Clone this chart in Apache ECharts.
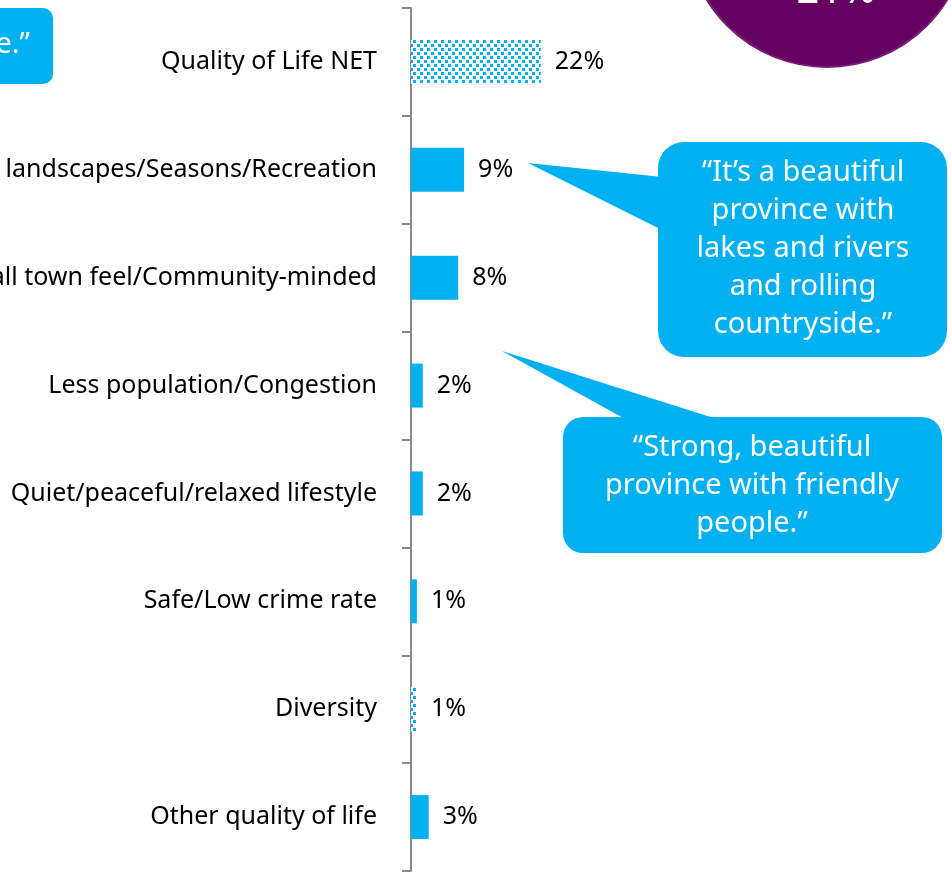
<!DOCTYPE html>
<html>
<head>
<meta charset="utf-8">
<script src="https://cdn.jsdelivr.net/npm/echarts@6/dist/echarts.min.js"></script>
<style>
  html, body { margin: 0; padding: 0; background: #fff; }
  #chart { width: 951px; height: 872px; }
</style>
</head>
<body>
<div id="chart"></div>
<script>
const categories = [
  'Quality of Life NET',
  'Beautiful landscapes/Seasons/Recreation',
  'Small town feel/Community-minded',
  'Less population/Congestion',
  'Quiet/peaceful/relaxed lifestyle',
  'Safe/Low crime rate',
  'Diversity',
  'Other quality of life'
];
const values = [22, 9, 8, 2, 2, 1, 1, 3];
const patterned = [true, false, false, false, false, false, true, false];

const quote1 = ['“It’s a beautiful', 'province with', 'lakes and rivers', 'and rolling', 'countryside.”'];
const quote2 = ['“Strong, beautiful', 'province with friendly', 'people.”'];

const BLUE = '#00B0F0';
const FONT = 'Noto Sans';

// dotted fill used for the NET / Diversity bars
function makeDots() {
  const c = document.createElement('canvas');
  c.width = 7; c.height = 8;
  const ctx = c.getContext('2d');
  ctx.fillStyle = '#fff';
  ctx.fillRect(0, 0, 7, 8);
  ctx.fillStyle = BLUE;
  ctx.fillRect(0, 0, 3, 3);
  ctx.fillRect(4, 4, 3, 3);
  return c;
}
const dots = makeDots();

const chart = echarts.init(document.getElementById('chart'));

const data = values.map((v, i) => ({
  value: v,
  itemStyle: { color: patterned[i] ? { image: dots, repeat: 'repeat' } : BLUE }
}));

const option = {
  animation: false,
  grid: { left: 411, top: 8, bottom: 1, width: 295, containLabel: false, outerBoundsMode: 'none' },
  xAxis: {
    type: 'value', min: 0, max: 50,
    show: false
  },
  yAxis: {
    type: 'category',
    data: categories,
    inverse: true,
    axisLine: { show: true, lineStyle: { color: '#898989', width: 2 } },
    axisTick: { show: true, length: 9, lineStyle: { color: '#898989', width: 2 } },
    axisLabel: { color: '#000', fontSize: 25, fontFamily: FONT, margin: 34, padding: [4, 0, 0, 0] }
  },
  series: [{
    type: 'bar',
    data,
    barWidth: 44,
    label: {
      show: true, position: 'right', distance: 14, padding: [4, 0, 0, 0],
      formatter: '{c}%', color: '#000', fontSize: 25, fontFamily: FONT
    }
  }],
  graphic: [
    // purple circle at top right
    { type: 'circle', shape: { cx: 827, cy: -74, r: 141 },
      style: { fill: '#650060', stroke: '#7a1c7a', lineWidth: 2 }, z: 10 },
    { type: 'text', x: 836, y: -8,
      style: { text: '21%', fill: '#fff', font: '40px "Noto Sans"', align: 'center', verticalAlign: 'middle' }, z: 11 },
    // partial callout at top left
    { type: 'rect', shape: { x: -40, y: 8, width: 93, height: 76, r: 10 },
      style: { fill: BLUE }, z: 10 },
    { type: 'text', x: 30, y: 45,
      style: { text: 'e.”', fill: '#fff', font: '29px "Noto Sans"', align: 'right', verticalAlign: 'middle' }, z: 11 },
    // callout 1
    { type: 'polygon', shape: { points: [[528, 163], [662, 177], [662, 230]] },
      style: { fill: BLUE }, z: 10 },
    { type: 'rect', shape: { x: 658, y: 142, width: 289, height: 215, r: 26 },
      style: { fill: BLUE }, z: 10 },
    { type: 'text', x: 803, y: 249,
      style: { text: quote1.join('\n'), fill: '#fff', font: '29px "Noto Sans"', lineHeight: 38,
               align: 'center', verticalAlign: 'middle' }, z: 11 },
    // callout 2
    { type: 'polygon', shape: { points: [[502, 351], [627, 420], [720, 420]] },
      style: { fill: BLUE }, z: 10 },
    { type: 'rect', shape: { x: 563, y: 417, width: 379, height: 136, r: 20 },
      style: { fill: BLUE }, z: 10 },
    { type: 'text', x: 752, y: 486,
      style: { text: quote2.join('\n'), fill: '#fff', font: '29px "Noto Sans"', lineHeight: 38,
               align: 'center', verticalAlign: 'middle' }, z: 11 }
  ]
};

chart.setOption(option);
</script>
</body>
</html>
